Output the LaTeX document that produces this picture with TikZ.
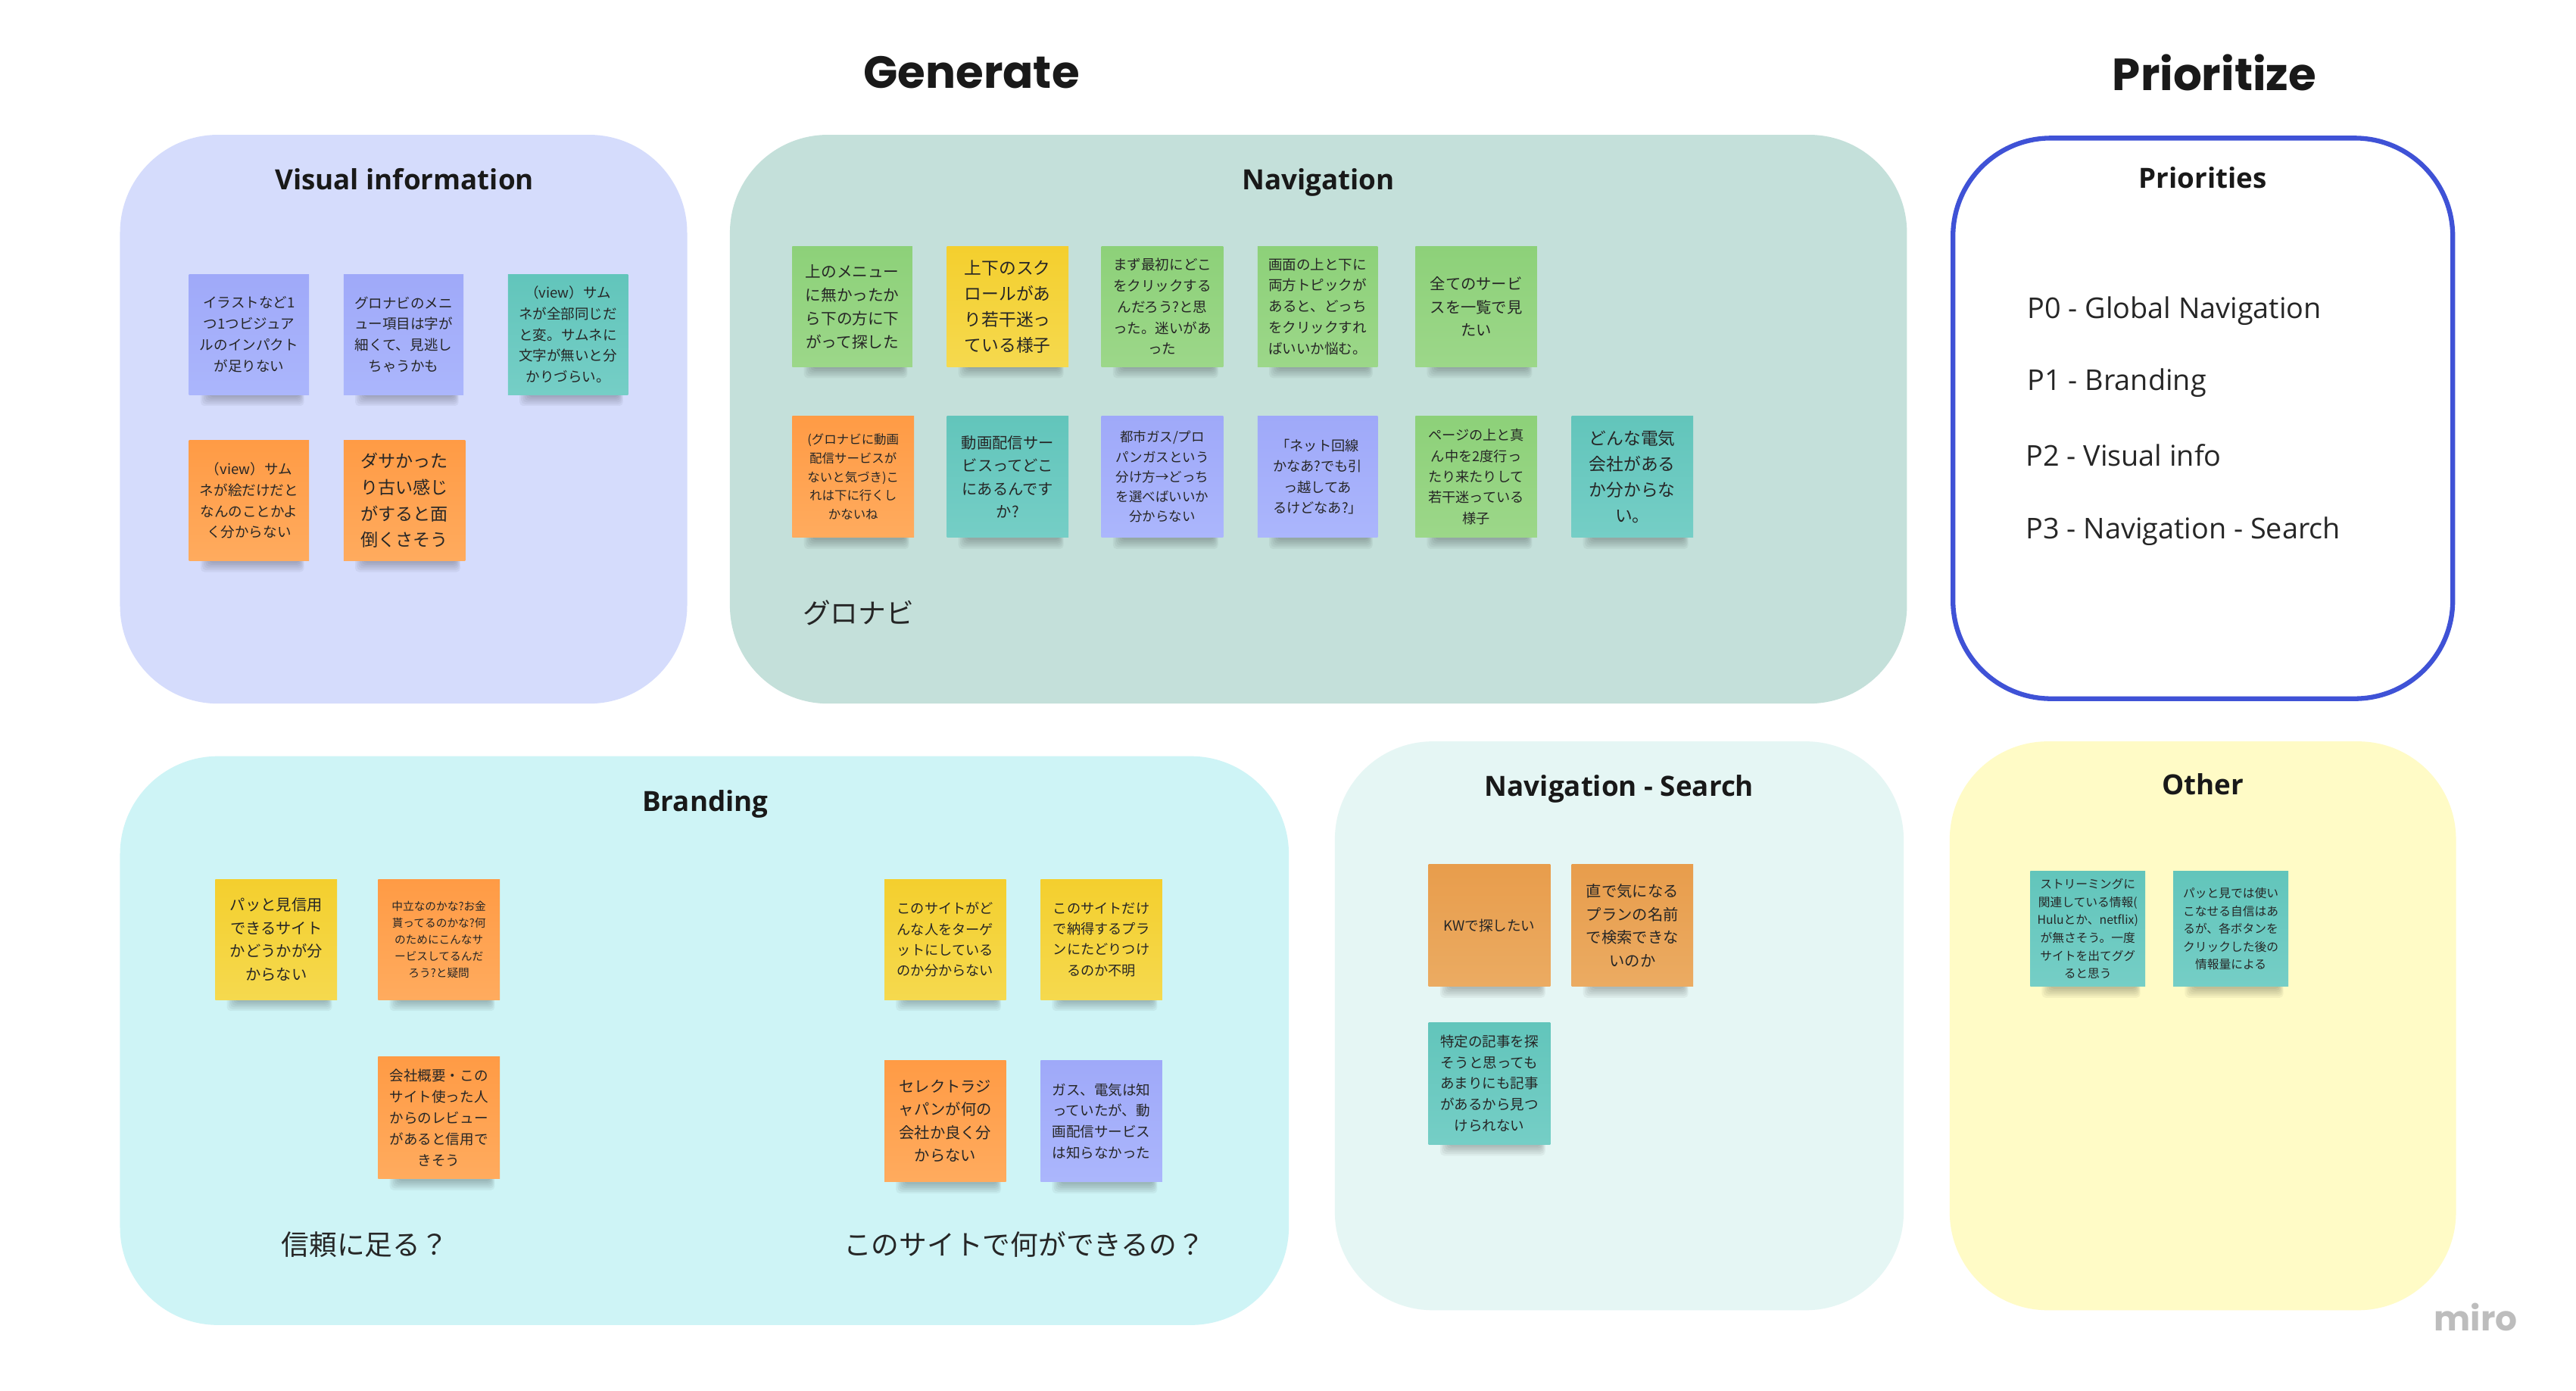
\documentclass[tikz,border=0pt]{standalone}
\usepackage{fontspec}
\setmainfont{Open Sans}
\newfontfamily\cjk{Noto Sans CJK JP}
\newfontfamily\pop{Poppins}
\definecolor{purT}{HTML}{9FA9F9}\definecolor{purB}{HTML}{ABB6FC}
\definecolor{teaT}{HTML}{62C5BB}\definecolor{teaB}{HTML}{75CEC6}
\definecolor{oraT}{HTML}{FF9B45}\definecolor{oraB}{HTML}{FFAB5E}
\definecolor{yelT}{HTML}{F4CF2E}\definecolor{yelB}{HTML}{F5D94E}
\definecolor{greT}{HTML}{8DD179}\definecolor{greB}{HTML}{9CD789}
\definecolor{kwoT}{HTML}{E89D4C}\definecolor{kwoB}{HTML}{EBAB62}
\definecolor{fVis}{HTML}{D5DCFC}
\definecolor{fNav}{HTML}{C4E0DA}
\definecolor{fBra}{HTML}{CEF4F6}
\definecolor{fSea}{HTML}{E5F6F4}
\definecolor{fOth}{HTML}{FFFBC6}
\definecolor{fPri}{HTML}{3F52D6}
\definecolor{stxt}{HTML}{262626}
\definecolor{miroGray}{HTML}{BDBDBD}
\def\dpx{0.02181cm}
\tikzset{
  sticky/.style={rectangle, inner sep=0pt, align=center, text=stxt},
  hdr/.style={font=\bfseries\fontsize{10.5}{12}\selectfont, text=black!90},
  ttl/.style={font=\pop\bfseries\fontsize{17}{20}\selectfont, text=black!90},
  prio/.style={anchor=west, inner sep=0pt, font=\fontsize{10.8}{12}\selectfont, text=black!85},
  lbl/.style={font=\cjk\fontsize{10.5}{12}\selectfont, text=black!85},
  frame/.style={rounded corners=1.3cm}
}
% name, x, y, w, h, colour, font size, text
\newcommand\stk[8]{%
  \foreach \k in {0,...,5}{\fill[black,opacity=0.045,rounded corners=1.5pt] ({#2+7+\k},{#3+#5-3}) rectangle ({#2+#4-3-0.5*\k},{#3+#5+7-1.1*\k});}
  \node[sticky, top color=#6T, bottom color=#6B, minimum width={#4*\dpx}, minimum height={#5*\dpx},
        font={\cjk\fontsize{#7}{\fpeval{#7*1.5}}\selectfont}] (#1) at ({#2+#4/2},{#3+#5/2}) {#8};}
\begin{document}
\begin{tikzpicture}[x=\dpx, y=-\dpx]
\useasboundingbox (0,0) rectangle (1567,846);
\fill[white] (0,0) rectangle (1567,846);

% frames
\fill[fVis, frame] (73,82) rectangle (418,428);
\fill[fNav, frame] (444,82) rectangle (1160,428);
\draw[fPri, line width=1.8pt, fill=white, frame] (1188,84) rectangle (1492,425);
\fill[fBra, frame] (73,460) rectangle (784,806);
\fill[fSea, frame] (812,451) rectangle (1158,797);
\fill[fOth, frame] (1186,451) rectangle (1494,797);

% titles
\node[ttl] (gen) at (591,44) {Generate};
\node[ttl] (pri) at (1347,44) {Prioritize};

% headers
\node[hdr] (hVis) at (246,109) {Visual information};
\node[hdr] (hNav) at (802,111) {Navigation};
\node[hdr] (hPri) at (1340,108) {Priorities};
\node[hdr] (hBra) at (429,489) {Branding};
\node[hdr] (hSea) at (985,480) {Navigation - Search};
\node[hdr] (hOth) at (1340,477) {Other};

% priorities
\node[prio] (p0) at (1233,189) {P0 - Global Navigation};
\node[prio] (p1) at (1233,233) {P1 - Branding};
\node[prio] (p2) at (1232,277) {P2 - Visual info};
\node[prio] (p3) at (1232,323) {P3 - Navigation - Search};

% visual information
\stk{v1}{115}{167}{73}{73}{pur}{5.3}{イラストなど1\\つ1つビジュア\\ルのインパクト\\が足りない}
\stk{v2}{209}{167}{73}{73}{pur}{5.3}{グロナビのメニ\\ュー項目は字が\\細くて、見逃し\\ちゃうかも}
\stk{v3}{309}{167}{73}{73}{tea}{5.3}{（view）サム\\ネが全部同じだ\\と変。サムネに\\文字が無いと分\\かりづらい。}
\stk{v4}{115}{268}{73}{73}{ora}{5.3}{（view）サム\\ネが絵だけだと\\なんのことかよ\\く分からない}
\stk{v5}{209}{268}{74}{73}{ora}{6.6}{ダサかった\\り古い感じ\\がすると面\\倒くさそう}

% navigation
\stk{n1}{482}{150}{73}{73}{gre}{5.9}{上のメニュー\\に無かったか\\ら下の方に下\\がって探した}
\stk{n2}{576}{150}{74}{73}{yel}{6.5}{上下のスク\\ロールがあ\\り若干迷っ\\ている様子}
\stk{n3}{670}{150}{74}{73}{gre}{5.3}{まず最初にどこ\\をクリックする\\んだろう?と思\\った。迷いがあ\\った}
\stk{n4}{765}{150}{73}{73}{gre}{5.3}{画面の上と下に\\両方トピックが\\あると、どっち\\をクリックすれ\\ばいいか悩む。}
\stk{n5}{861}{150}{74}{73}{gre}{5.8}{全てのサービ\\スを一覧で見\\たい}
\stk{n6}{482}{253}{74}{74}{ora}{4.7}{(グロナビに動画\\配信サービスが\\ないと気づき)こ\\れは下に行くし\\かないね}
\stk{n7}{576}{253}{74}{74}{tea}{5.8}{動画配信サー\\ビスってどこ\\にあるんです\\か?}
\stk{n8}{670}{253}{74}{74}{pur}{5.0}{都市ガス/プロ\\パンガスという\\分け方→どっち\\を選べばいいか\\分からない}
\stk{n9}{765}{253}{73}{74}{pur}{5.2}{「ネット回線\\かなあ?でも引\\っ越してあ\\るけどなあ?」}
\stk{n10}{861}{253}{74}{74}{gre}{5.2}{ページの上と真\\ん中を2度行っ\\たり来たりして\\若干迷っている\\様子}
\stk{n11}{956}{253}{74}{74}{tea}{6.5}{どんな電気\\会社がある\\か分からな\\い。}
\node[lbl, anchor=west, inner sep=0pt] (gnav) at (488,373) {グロナビ};

% branding
\stk{b1}{131}{535}{74}{73}{yel}{5.8}{パッと見信用\\できるサイト\\かどうかが分\\からない}
\stk{b2}{230}{535}{74}{73}{ora}{4.2}{中立なのかな?お金\\貰ってるのかな?何\\のためにこんなサ\\ービスしてるんだ\\ろう?と疑問}
\stk{b3}{230}{643}{74}{74}{ora}{5.3}{会社概要・この\\サイト使った人\\からのレビュー\\があると信用で\\きそう}
\stk{b4}{538}{535}{74}{73}{yel}{5.2}{このサイトがど\\んな人をターゲ\\ットにしている\\のか分からない}
\stk{b5}{633}{535}{74}{73}{yel}{5.2}{このサイトだけ\\で納得するプラ\\ンにたどりつけ\\るのか不明}
\stk{b6}{538}{645}{74}{74}{ora}{5.8}{セレクトラジ\\ャパンが何の\\会社か良く分\\からない}
\stk{b7}{633}{645}{74}{74}{pur}{5.3}{ガス、電気は知\\っていたが、動\\画配信サービス\\は知らなかった}
\node[lbl] (trust) at (222,757) {信頼に足る？};
\node[lbl] (what) at (623,757) {このサイトで何ができるの？};

% navigation - search
\stk{s1}{869}{526}{74}{74}{kwo}{5.3}{KWで探したい}
\stk{s2}{956}{526}{74}{74}{kwo}{5.8}{直で気になる\\プランの名前\\で検索できな\\いのか}
\stk{s3}{869}{622}{74}{74}{tea}{5.3}{特定の記事を探\\そうと思っても\\あまりにも記事\\があるから見つ\\けられない}

% other
\stk{o1}{1235}{530}{70}{70}{tea}{4.5}{ストリーミングに\\関連している情報(\\Huluとか、netflix)\\が無さそう。一度\\サイトを出てググ\\ると思う}
\stk{o2}{1322}{530}{70}{70}{tea}{4.5}{パッと見では使い\\こなせる自信はあ\\るが、各ボタンを\\クリックした後の\\情報量による}

% logo
\node[font=\pop\bfseries\fontsize{13}{14}\selectfont, text=miroGray] (miro) at (1506,801) {miro};
\end{tikzpicture}
\end{document}
